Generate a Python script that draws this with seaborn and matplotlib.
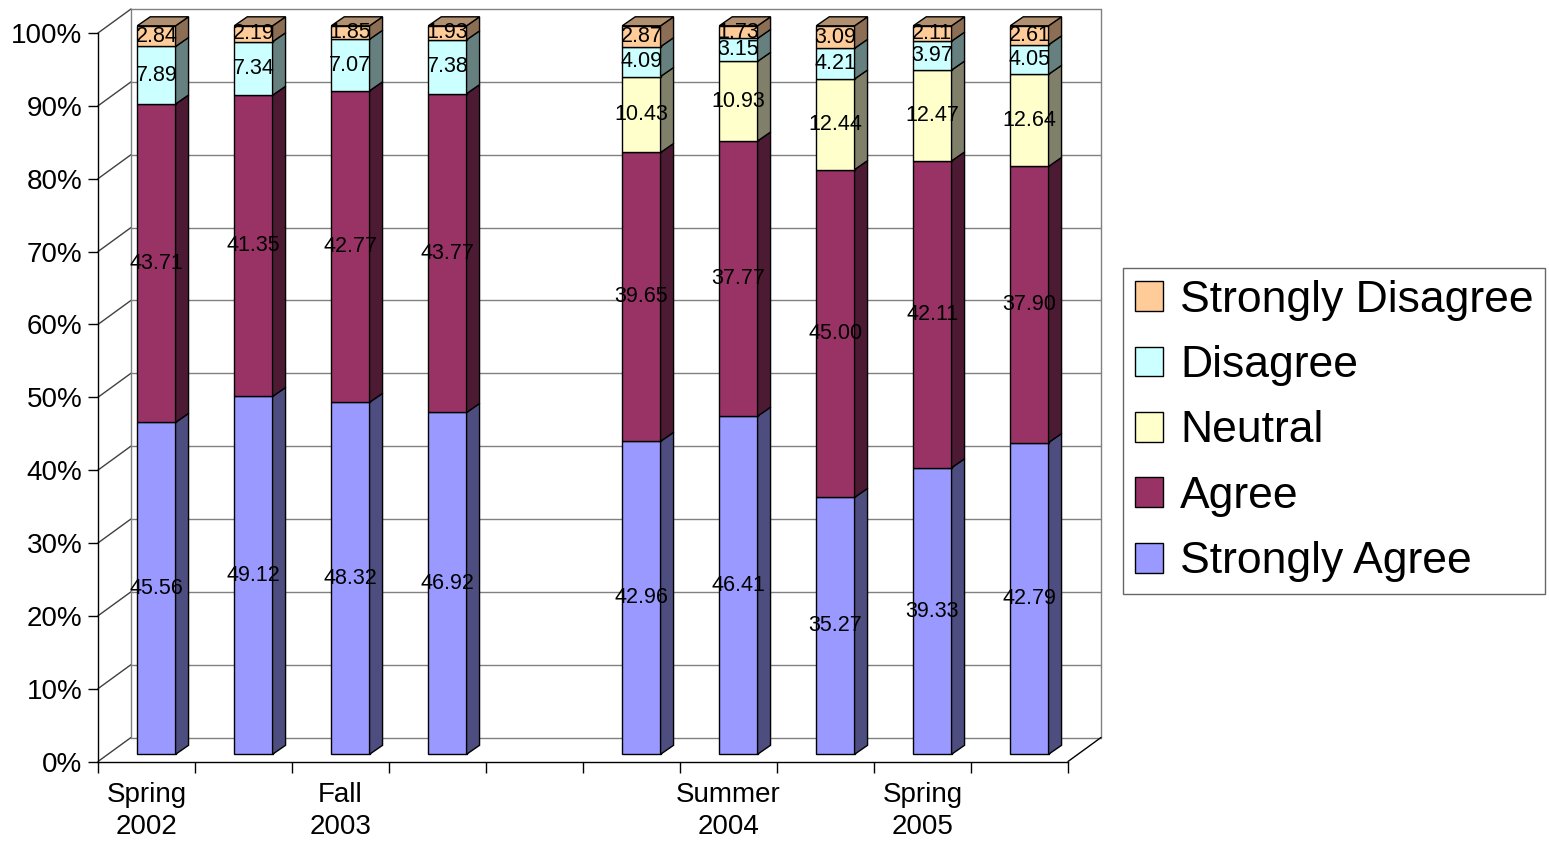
import numpy as np
import pandas as pd
import matplotlib
matplotlib.use("Agg")
import matplotlib.pyplot as plt
import matplotlib.transforms as mtransforms
from matplotlib.patches import Polygon, Patch
import seaborn as sns

# ---- data -------------------------------------------------------------
slot_labels = ["Spring\n2002", "", "Fall\n2003", "", "", "",
               "Summer\n2004", "", "Spring\n2005", ""]
bar_slots = [0, 1, 2, 3, 5, 6, 7, 8, 9]          # slot 4 stays empty

strongly_agree = [45.56, 49.12, 48.32, 46.92, 42.96, 46.41, 35.27, 39.33, 42.79]
agree = [43.71, 41.35, 42.77, 43.77, 39.65, 37.77, 45.00, 42.11, 37.90]
neutral = [0.0, 0.0, 0.0, 0.0, 10.43, 10.93, 12.44, 12.47, 12.64]
disagree = [7.89, 7.34, 7.07, 7.38, 4.09, 3.15, 4.21, 3.97, 4.05]
strongly_disagree = [2.84, 2.19, 1.85, 1.93, 2.87, 1.73, 3.09, 2.11, 2.61]

series_names = ["Strongly Agree", "Agree", "Neutral", "Disagree", "Strongly Disagree"]
series_values = [strongly_agree, agree, neutral, disagree, strongly_disagree]
front_colors = ["#9999FF", "#993366", "#FFFFCC", "#CCFFFF", "#FFCC99"]
side_colors = ["#4D4D80", "#4D1A33", "#80806A", "#668080", "#8C6E55"]
top_color = "#B09070"

# ---- figure / front plane --------------------------------------------
sns.set_theme(style="white")
plt.rcParams["font.family"] = ["Liberation Sans", "DejaVu Sans"]
plt.rcParams["text.color"] = "black"
plt.rcParams["xtick.color"] = "black"
plt.rcParams["ytick.color"] = "black"
plt.rcParams["axes.labelcolor"] = "black"

W, H, DPI = 1549, 846, 100
fig = plt.figure(figsize=(W / DPI, H / DPI), dpi=DPI)
ax_left, ax_right, ax_bottom, ax_top = 98, 1068, 761.5, 33
ax = fig.add_axes([ax_left / W, (H - ax_bottom) / H,
                   (ax_right - ax_left) / W, (ax_bottom - ax_top) / H])
ax.set_facecolor("none")
n_slots = len(slot_labels)
px_x = (ax_right - ax_left) / n_slots      # pixels per slot
px_y = (ax_bottom - ax_top) / 100.0        # pixels per percent

# depth offsets (pixels) converted to data units
wall_dx, wall_dy = 33 / px_x, 24 / px_y
bar_depth_dx, bar_depth_dy = 13 / px_x, 9 / px_y
bar_tf = mtransforms.offset_copy(ax.transData, fig=fig, x=9.9, y=7.2, units="dots")

# ---- back wall, side wall and floor -----------------------------------
ticks = np.arange(0, 101, 10)
for t in ticks:
    ax.plot([wall_dx, n_slots + wall_dx], [t + wall_dy] * 2, color="#808080",
            lw=1.0, clip_on=False, zorder=0.5)
    ax.plot([0, wall_dx], [t, t + wall_dy], color="#404040", lw=1.0,
            clip_on=False, zorder=0.5)
for xe in (wall_dx, n_slots + wall_dx):
    ax.plot([xe, xe], [wall_dy, 100 + wall_dy], color="#808080", lw=1.0,
            clip_on=False, zorder=0.5)
ax.plot([n_slots, n_slots + wall_dx], [0, wall_dy], color="black", lw=1.0,
        clip_on=False, zorder=0.5)

# ---- stacked bars ------------------------------------------------------
totals = np.sum(np.array(series_values), axis=0)
centers = np.array(bar_slots) + 0.5
bottom = np.zeros(len(bar_slots))
n_series = len(series_names)
for k, (name, vals, fc, sc) in enumerate(zip(series_names, series_values,
                                              front_colors, side_colors)):
    raw = np.array(vals)
    heights = raw / totals * 100.0
    start = len(ax.patches)
    sns.barplot(x=centers, y=heights, native_scale=True, width=0.395,
                bottom=bottom, color=fc, saturation=1, edgecolor="black",
                linewidth=1.0, errorbar=None, ax=ax, zorder=2)
    for j, p in enumerate(ax.patches[start:]):
        p.set_transform(bar_tf)
        p.set_clip_on(False)
        x0, y0, w, h = p.get_x(), p.get_y(), p.get_width(), p.get_height()
        if h <= 0:
            p.set_visible(False)
            continue
        side = Polygon([(x0 + w, y0), (x0 + w + bar_depth_dx, y0 + bar_depth_dy),
                        (x0 + w + bar_depth_dx, y0 + h + bar_depth_dy), (x0 + w, y0 + h)],
                       closed=True, facecolor=sc, edgecolor="black", lw=1.0,
                       transform=bar_tf, clip_on=False, zorder=2)
        ax.add_patch(side)
        if k == n_series - 1:
            top = Polygon([(x0, y0 + h), (x0 + w, y0 + h),
                           (x0 + w + bar_depth_dx, y0 + h + bar_depth_dy),
                           (x0 + bar_depth_dx, y0 + h + bar_depth_dy)],
                          closed=True, facecolor=top_color, edgecolor="black",
                          lw=1.0, transform=bar_tf, clip_on=False, zorder=2)
            ax.add_patch(top)
        ax.text(x0 + w / 2, y0 + h / 2, f"{raw[j]:.2f}", transform=bar_tf,
                ha="center", va="center", fontsize=15.5, color="black", zorder=5)
    bottom = bottom + heights

# ---- axes --------------------------------------------------------------
ax.set_xlim(0, n_slots)
ax.set_ylim(0, 100)
for s in ("top", "right"):
    ax.spines[s].set_visible(False)
for s in ("left", "bottom"):
    ax.spines[s].set_color("black")
    ax.spines[s].set_linewidth(1.0)
ax.set_yticks(ticks)
ax.set_yticklabels([f"{t}%" for t in ticks])
ax.tick_params(axis="y", length=7.2, width=1.0, color="black", direction="out",
               left=True, pad=4, labelsize=20, labelcolor="black")
ax.set_xticks(np.arange(0, n_slots + 1))
ax.set_xticklabels([])
ax.set_xticks(np.arange(n_slots) + 0.5, minor=True)
ax.set_xticklabels(slot_labels, minor=True, linespacing=1.3)
ax.tick_params(axis="x", which="major", length=8, width=1.0, color="black",
               direction="out", bottom=True)
ax.tick_params(axis="x", which="minor", length=0, pad=15, labelsize=20,
               labelcolor="black")
ax.set_xlabel("")
ax.set_ylabel("")
ax.grid(False)

# ---- legend ------------------------------------------------------------
handles = [Patch(facecolor=c, edgecolor="black", lw=1.0) for c in front_colors[::-1]]
leg = fig.legend(handles, series_names[::-1], loc="upper left",
                 bbox_to_anchor=(1123 / W, 1 - 268 / H), borderaxespad=0,
                 fontsize=32, frameon=True, fancybox=False, edgecolor="#404040",
                 borderpad=0.26, handlelength=0.65, handleheight=0.65,
                 handletextpad=0.37, labelspacing=0.55)
leg.get_frame().set_linewidth(1.0)
for txt in leg.get_texts():
    txt.set_color("black")

fig.savefig("out.png", dpi=DPI, facecolor="white")
